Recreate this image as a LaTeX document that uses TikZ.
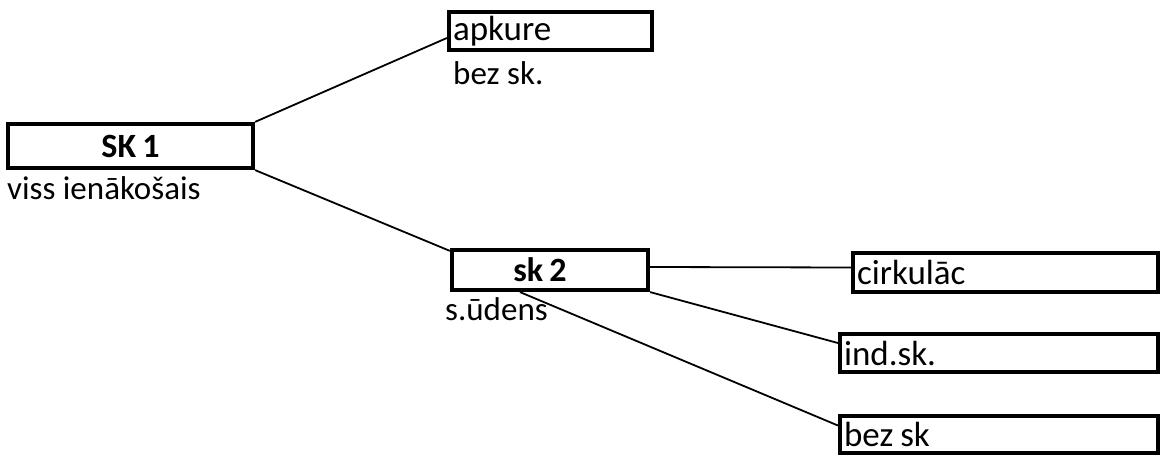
\documentclass[tikz,border=0pt]{standalone}
\usepackage{fontspec}
\setmainfont{Carlito}
\begin{document}
\begin{tikzpicture}[x=1pt,y=-1pt,
  txt/.style={font=\fontsize{33}{37}\selectfont},
  btxt/.style={font=\fontsize{35}{39}\selectfont},
  box/.style={draw, line width=4.2pt, inner sep=4pt, btxt},
  lbox/.style={box, align=left},
  lbl/.style={anchor=west, inner sep=0pt, txt},
  conn/.style={line width=1.8pt}]
\useasboundingbox (0,0) rectangle (1167,457);
\node[box, font=\fontsize{34}{38}\selectfont\bfseries, minimum width=245pt, minimum height=44pt] (sk1) at (130.5,146) {SK\hspace{0.18em}1};
\node[lbox, text width=195pt, minimum height=38pt] (apk) at (550.5,31) {apkure};
\node[box, font=\fontsize{34}{38}\selectfont\bfseries, minimum width=196pt, minimum height=40pt] (sk2) at (550,270) {\hspace{-20pt}sk\hspace{0.18em}2};
\node[lbox, text width=297pt, minimum height=39pt] (cirk) at (1005.5,272.5) {cirkulāc};
\node[lbox, text width=310pt, minimum height=38pt] (ind) at (999,353) {ind.sk.};
\node[lbox, text width=310pt, minimum height=37pt] (bez) at (999,434.5) {bez\hspace{0.2em}sk};
\node[lbl] (l1) at (7,188) {viss ienākošais};
\node[lbl] (l2) at (453,73) {bez sk.};
\node[lbl] (l3) at (445,309) {s.ūdens};
\draw[conn] (sk1.north east) -- ([yshift=-7pt]apk.west);
\draw[conn] (sk1.south east) -- ([yshift=-3pt]sk2.north west);
\draw[conn] ([yshift=3pt]sk2.east) -- ([yshift=5pt]cirk.west);
\draw[conn] (sk2.south east) -- ([yshift=10pt]ind.west);
\draw[conn] ([xshift=-30pt]sk2.south) -- ([yshift=9pt]bez.west);
\end{tikzpicture}
\end{document}
